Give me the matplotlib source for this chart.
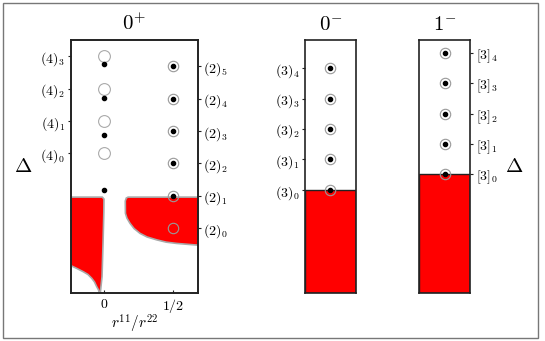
import matplotlib
matplotlib.use('Agg')
import matplotlib.pyplot as plt
from matplotlib.patches import Rectangle

plt.rcParams['mathtext.fontset'] = 'cm'
plt.rcParams['font.family'] = ['DejaVu Serif']

# ---- data (Delta in arbitrary units) ----
# 0+ panel
lev_4 = [4.31, 5.31, 6.31, 7.31]          # (4)_n, open circles at r=0
lab_4 = [r'$(4)_0$', r'$(4)_1$', r'$(4)_2$', r'$(4)_3$']
lev_2 = [2.0, 3.0, 4.0, 5.0, 6.0, 7.0]    # (2)_n, open circles at r=1/2
lab_2 = [r'$(2)_%d$' % i for i in range(6)]
dots_r0 = [3.17, 4.87, 6.03, 7.08]        # filled dots at r=0
dots_rhalf = [3.0, 4.0, 5.0, 6.0, 7.0]    # filled dots at r=1/2
xticks_plus = [0.0, 0.5]
xticklabels_plus = [r'$0$', r'$1/2$']

# excluded (red) regions in the 0+ panel
left_x = [-0.40, -0.01, 0.002, 0.001, -0.005, -0.012, -0.025,
          -0.032, -0.037, -0.050, -0.066, -0.086, -0.113, -0.147, -0.192, -0.230, -0.40]
left_y = [2.96, 2.96, 2.90, 2.50, 1.50, 0.50, -0.02,
          0.00, 0.093, 0.194, 0.340, 0.454, 0.571, 0.657, 0.756, 0.833, 0.88]
right_x = [0.90, 0.175, 0.162, 0.155, 0.156, 0.167, 0.189, 0.218, 0.261, 0.311,
           0.381, 0.448, 0.524, 0.668, 0.90]
right_y = [2.96, 2.96, 2.93, 2.84, 2.46, 2.31, 2.15, 1.99, 1.84, 1.73,
           1.64, 1.57, 1.53, 1.48, 1.42]

# 0- panel
lev_3 = [3.18, 4.13, 5.07, 6.00, 6.94]
lab_3 = [r'$(3)_%d$' % i for i in range(5)]
bound_0m = 3.18

# 1- panel
lev_3b = [3.66, 4.60, 5.53, 6.48, 7.40]
lab_3b = [r'$[3]_%d$' % i for i in range(5)]
bound_1m = 3.66

YMAX = 7.81
RED = '#ff0000'
SPINE = '#222222'


def style_axis(ax):
    for s in ax.spines.values():
        s.set_color(SPINE)
        s.set_linewidth(1.2)
    ax.tick_params(length=2.5, width=0.8, pad=1.5, labelsize=10, color=SPINE)


fig = plt.figure(figsize=(5.45, 3.41), dpi=100)
fig.patches.append(Rectangle((0.005, 0.010), 0.982, 0.982, transform=fig.transFigure,
                             fill=False, edgecolor='#777777', lw=1.0))

bottom, height = 48 / 341, 253 / 341

# ===== 0+ panel =====
ax1 = fig.add_axes([70.7 / 545, bottom, 127 / 545, height])
ax1.fill(left_x, left_y, facecolor=RED, edgecolor='#aaaaaa', lw=1.2, zorder=1)
ax1.fill(right_x, right_y, facecolor=RED, edgecolor='#aaaaaa', lw=1.2, zorder=1)
ax1.plot([0] * len(lev_4), lev_4, 'o', ms=8.5, mfc='none', mec='#aaaaaa', mew=0.8, zorder=3)
ax1.plot([0.5] * len(lev_2), lev_2, 'o', ms=7.5, mfc='none', mec='#999999', mew=0.8, zorder=3)
ax1.plot([0] * len(dots_r0), dots_r0, 'o', ms=3, color='black', zorder=4)
ax1.plot([0.5] * len(dots_rhalf), dots_rhalf, 'o', ms=3, color='black', zorder=4)
ax1.set_xlim(-0.237, 0.675)
ax1.set_ylim(0, YMAX)
ax1.set_xticks(xticks_plus)
ax1.set_xticklabels(xticklabels_plus)
ax1.set_yticks(lev_4)
ax1.set_yticklabels(lab_4)
style_axis(ax1)
ax1.tick_params(axis='x', direction='in', pad=3)
ax1.set_xlabel(r'$r^{11}/r^{22}$', fontsize=11, labelpad=-2)
ax1.set_ylabel(r'$\Delta$', fontsize=15, rotation=0, labelpad=12, va='center')
ax1.set_title(r'$0^{+}$', fontsize=15, pad=7)

ax1r = ax1.twinx()
ax1r.set_ylim(0, YMAX)
ax1r.set_yticks(lev_2)
ax1r.set_yticklabels(lab_2)
style_axis(ax1r)

# ===== 0- panel =====
ax2 = fig.add_axes([305 / 545, bottom, 50.7 / 545, height])
ax2.axhspan(0, bound_0m, facecolor=RED, edgecolor=SPINE, lw=1.0, zorder=1)
ax2.plot([0] * len(lev_3), lev_3, 'o', ms=7.5, mfc='none', mec='#999999', mew=0.8, zorder=3)
ax2.plot([0] * len(lev_3), lev_3, 'o', ms=3, color='black', zorder=4)
ax2.set_xlim(-1, 1)
ax2.set_ylim(0, YMAX)
ax2.set_xticks([])
ax2.set_yticks(lev_3)
ax2.set_yticklabels(lab_3)
style_axis(ax2)
ax2.set_title(r'$0^{-}$', fontsize=15, pad=7)

# ===== 1- panel =====
ax3 = fig.add_axes([419.3 / 545, bottom, 50.7 / 545, height])
ax3.axhspan(0, bound_1m, facecolor=RED, edgecolor=SPINE, lw=1.0, zorder=1)
ax3.plot([0] * len(lev_3b), lev_3b, 'o', ms=7.5, mfc='none', mec='#999999', mew=0.8, zorder=3)
ax3.plot([0] * len(lev_3b), lev_3b, 'o', ms=3, color='black', zorder=4)
ax3.set_xlim(-1, 1)
ax3.set_ylim(0, YMAX)
ax3.set_xticks([])
ax3.yaxis.tick_right()
ax3.yaxis.set_label_position('right')
ax3.set_yticks(lev_3b)
ax3.set_yticklabels(lab_3b)
style_axis(ax3)
ax3.set_ylabel(r'$\Delta$', fontsize=15, rotation=0, labelpad=12, va='center')
ax3.set_title(r'$1^{-}$', fontsize=15, pad=7)

fig.savefig('out.png', dpi=100)
plt.close(fig)
